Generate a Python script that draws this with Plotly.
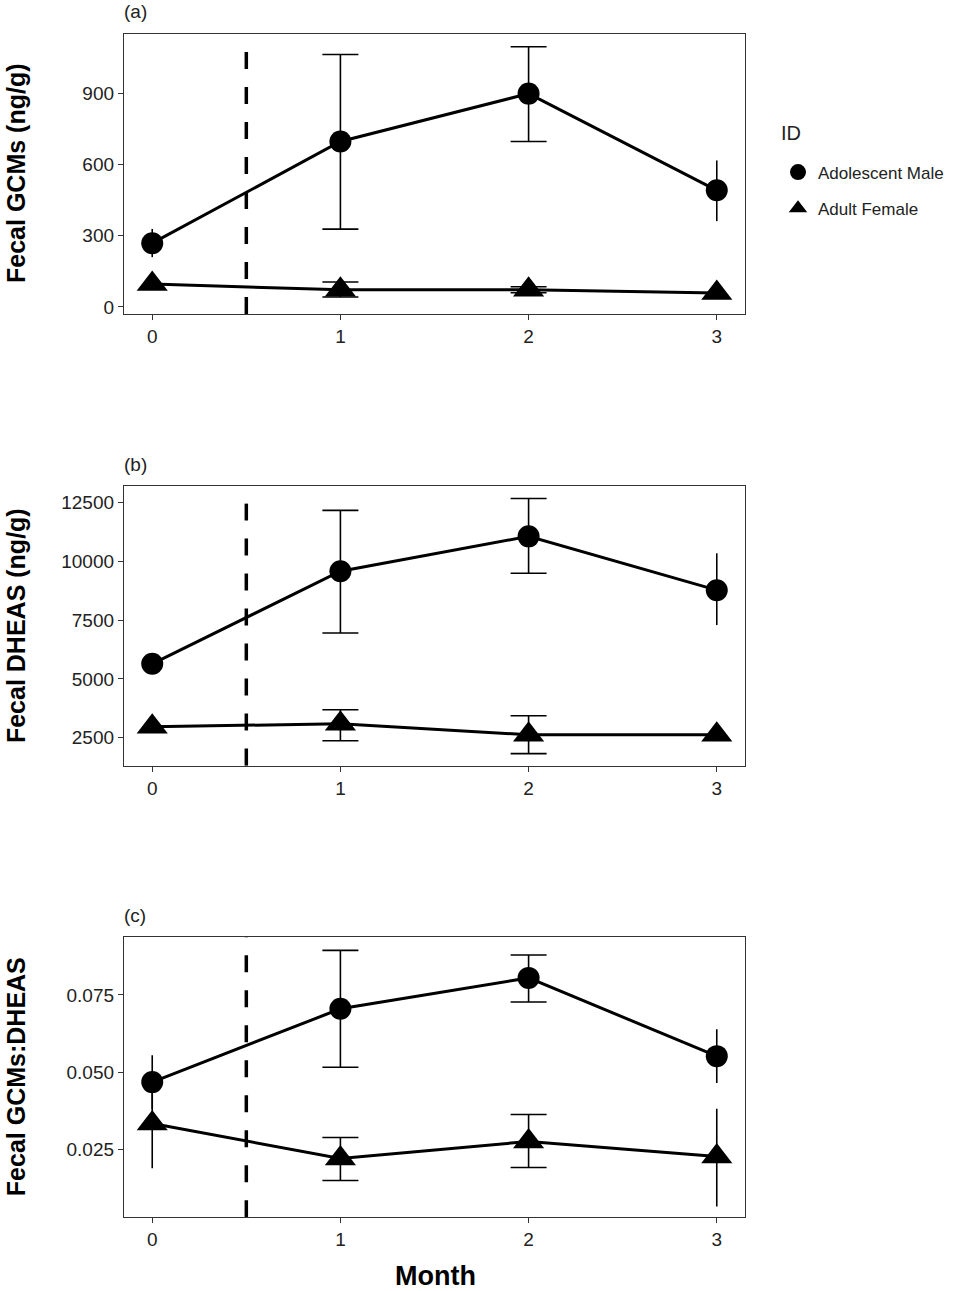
import plotly.graph_objects as go

# ---------------- data ----------------
months = [0, 1, 2, 3]
month_ticks = [0, 1, 2, 3]

# (a) Fecal GCMs (ng/g)
gcm_male = [269, 698, 900, 492]
gcm_male_hi = [329, 1065, 1098, 618]
gcm_male_lo = [210, 328, 698, 362]
gcm_female = [97, 72, 72, 59]
gcm_female_hi = [110, 105, 85, 70]
gcm_female_lo = [85, 42, 60, 48]
gcm_ticks = [0, 300, 600, 900]

# (b) Fecal DHEAS (ng/g)
dheas_male = [5640, 9576, 11059, 8771]
dheas_male_hi = [5800, 12161, 12669, 10339]
dheas_male_lo = [5480, 6949, 9491, 7288]
dheas_female = [2966, 3093, 2627, 2627]
dheas_female_hi = [3150, 3686, 3432, 2800]
dheas_female_lo = [2800, 2373, 1822, 2450]
dheas_ticks = [2500, 5000, 7500, 10000, 12500]

# (c) Fecal GCMs:DHEAS
ratio_male = [0.0468, 0.0705, 0.0805, 0.0552]
ratio_male_hi = [0.0555, 0.0894, 0.0879, 0.0639]
ratio_male_lo = [0.0380, 0.0516, 0.0727, 0.0465]
ratio_female = [0.0334, 0.0221, 0.0276, 0.0227]
ratio_female_hi = [0.0485, 0.0289, 0.0363, 0.0382]
ratio_female_lo = [0.0189, 0.0150, 0.0192, 0.0066]
ratio_ticks = [0.025, 0.050, 0.075]

series_names = ["Adolescent Male", "Adult Female"]
panel_labels = ["(a)", "(b)", "(c)"]
y_titles = ["Fecal GCMs (ng/g)", "Fecal DHEAS (ng/g)", "Fecal GCMs:DHEAS"]
x_title = "Month"
legend_title = "ID"
event_month = 0.5
capped_months = [1, 2]

# ---------------- layout/style ----------------
W, H = 965, 1291
FONT = "Liberation Sans, Arial, sans-serif"
x_dom = [124 / W, 745 / W]
panel_px = [(34, 315), (488, 768), (940, 1221)]
y_ranges = [[-30, 1152], [1314, 13178], [0.0031, 0.0937]]
y_fmt = ["d", "d", ".3f"]

panels = [
    (gcm_male, gcm_male_lo, gcm_male_hi, gcm_female, gcm_female_lo, gcm_female_hi, gcm_ticks),
    (dheas_male, dheas_male_lo, dheas_male_hi, dheas_female, dheas_female_lo, dheas_female_hi, dheas_ticks),
    (ratio_male, ratio_male_lo, ratio_male_hi, ratio_female, ratio_female_lo, ratio_female_hi, ratio_ticks),
]
symbols = ["circle", "triangle-up"]
msizes = [22, 27]

fig = go.Figure()
layout = dict(
    width=W, height=H,
    margin=dict(l=0, r=0, t=0, b=0),
    paper_bgcolor="white", plot_bgcolor="white",
    font=dict(family=FONT, color="black", size=18),
    showlegend=True,
    legend=dict(
        x=778 / W, y=1 - 155 / H, xanchor="left", yanchor="top",
        font=dict(size=17, color="#222"), itemsizing="trace", tracegroupgap=11,
        bgcolor="rgba(0,0,0,0)",
    ),
    shapes=[], annotations=[],
)

layout["annotations"].append(dict(
    text=legend_title, xref="paper", yref="paper", x=779 / W, y=1 - 133 / H,
    xanchor="left", yanchor="middle", showarrow=False, font=dict(size=20, color="#222"),
))

for i, (m, mlo, mhi, f, flo, fhi, ticks) in enumerate(panels):
    k = "" if i == 0 else str(i + 1)
    xa, ya = "x" + k, "y" + k
    top, bot = panel_px[i]
    layout["xaxis" + k] = dict(
        domain=x_dom, range=[-0.15, 3.15], anchor=ya,
        tickvals=month_ticks, ticks="outside", ticklen=5, tickcolor="#333",
        showline=True, mirror=True, linecolor="#333", linewidth=1.3,
        showgrid=False, zeroline=False, tickfont=dict(size=19, color="#222"),
    )
    layout["yaxis" + k] = dict(
        domain=[1 - bot / H, 1 - top / H], range=y_ranges[i], anchor=xa,
        tickvals=ticks, tickformat=y_fmt[i], ticks="outside", ticklen=5, tickcolor="#333",
        showline=True, mirror=True, linecolor="#333", linewidth=1.3,
        showgrid=False, zeroline=False, tickfont=dict(size=19, color="#222"),
    )
    # dashed event line
    layout["shapes"].append(dict(
        type="line", xref=xa, yref=ya + " domain", x0=event_month, x1=event_month,
        y0=0, y1=1, line=dict(color="black", width=3.5, dash="17px,18px"), layer="below",
    ))
    # panel label
    layout["annotations"].append(dict(
        text=panel_labels[i], xref="paper", yref="paper", x=122 / W, y=1 - (top - 22) / H,
        xanchor="left", yanchor="middle", showarrow=False, font=dict(size=19, color="#222"),
    ))
    # y title
    layout["annotations"].append(dict(
        text="<b>" + y_titles[i] + "</b>", xref="paper", yref="paper", x=16 / W,
        y=1 - (top + bot) / 2 / H, xanchor="center", yanchor="middle", textangle=-90,
        showarrow=False, font=dict(size=25, color="black"),
    ))

    for s, (vals, lo, hi) in enumerate([(m, mlo, mhi), (f, flo, fhi)]):
        # error bars: capped and uncapped subsets
        for capped in (True, False):
            idx = [j for j, mo in enumerate(months) if (mo in capped_months) == capped]
            fig.add_trace(go.Scatter(
                x=[months[j] for j in idx], y=[vals[j] for j in idx],
                mode="markers", marker=dict(size=1, opacity=0),
                error_y=dict(type="data", symmetric=False,
                             array=[hi[j] - vals[j] for j in idx],
                             arrayminus=[vals[j] - lo[j] for j in idx],
                             color="black", thickness=1.6, width=18 if capped else 0),
                xaxis=xa, yaxis=ya, showlegend=False, hoverinfo="skip",
            ))
        fig.add_trace(go.Scatter(
            x=months, y=vals, mode="lines", line=dict(color="black", width=3),
            xaxis=xa, yaxis=ya, showlegend=False, hoverinfo="skip",
        ))
        fig.add_trace(go.Scatter(
            x=months, y=vals, mode="markers", name=series_names[s],
            marker=dict(symbol=symbols[s], size=msizes[s], color="black"),
            xaxis=xa, yaxis=ya, showlegend=(i == 0), legendgroup=series_names[s],
        ))

layout["annotations"].append(dict(
    text="<b>" + x_title + "</b>", xref="paper", yref="paper", x=435 / W, y=1 - 1280 / H,
    xanchor="center", yanchor="middle", showarrow=False, font=dict(size=27, color="black"),
))

fig.update_layout(**layout)
fig.write_html("out.html", config={"displayModeBar": False},
               post_script="document.body.style.margin='0px';")
